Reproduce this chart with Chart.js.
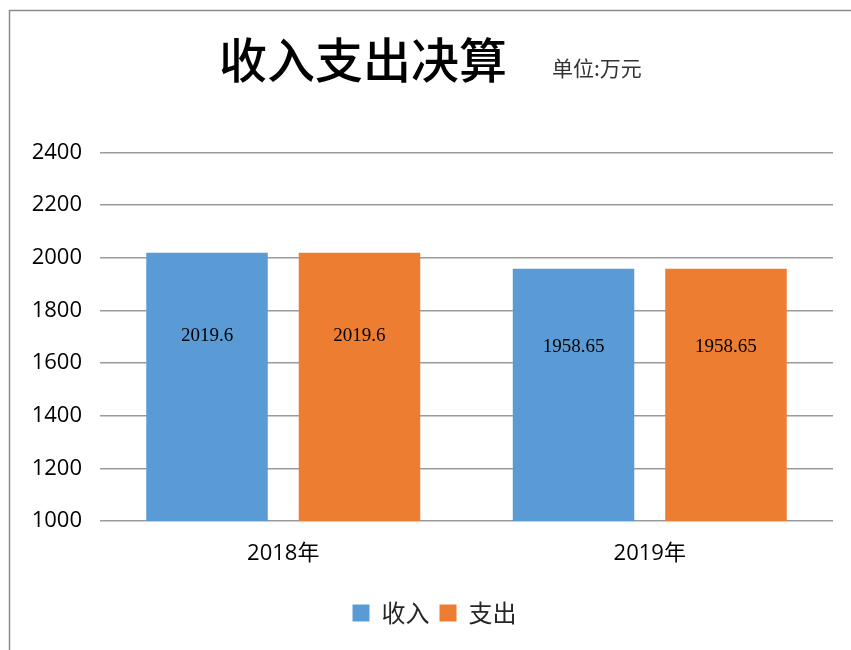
<!DOCTYPE html>
<html>
<head>
<meta charset="utf-8">
<script src="https://cdn.jsdelivr.net/npm/chart.js@4/dist/chart.umd.min.js"></script>
<style>
html,body{margin:0;padding:0;background:#fff;}
#wrap{width:851px;height:650px;position:relative;}
</style>
</head>
<body>
<div id="wrap"><canvas id="c" width="851" height="650"></canvas></div>
<script>
const categories = ['2018年', '2019年'];
const incomeValues = [2019.6, 1958.65];
const expenseValues = [2019.6, 1958.65];
const seriesNames = ['收入', '支出'];
const yTicks = [1000, 1200, 1400, 1600, 1800, 2000, 2200, 2400];
const titleText = '收入支出决算';
const unitText = '单位:万元';

const frameAndTitle = {
  id: 'frameAndTitle',
  afterLayout(chart) {
    if (chart.legend) {
      chart.legend.left += 11;
      chart.legend.right += 11;
    }
  },
  beforeDraw(chart) {
    const ctx = chart.ctx;
    ctx.save();
    ctx.fillStyle = '#fff';
    ctx.fillRect(0, 0, chart.width, chart.height);
    ctx.strokeStyle = '#8c8c8c';
    ctx.lineWidth = 1.5;
    ctx.strokeRect(9.5, 10.5, 1000, 1000);
    ctx.restore();
  },
  afterDraw(chart) {
    const ctx = chart.ctx;
    ctx.save();
    ctx.fillStyle = '#000';
    ctx.textBaseline = 'middle';
    ctx.textAlign = 'center';
    ctx.font = '500 48px "Noto Sans CJK SC"';
    ctx.fillText(titleText, 363, 60);
    ctx.textAlign = 'left';
    ctx.fillStyle = '#333';
    ctx.font = '21px "Noto Sans CJK SC"';
    ctx.fillText(unitText, 552, 68);
    ctx.restore();
  }
};

const valueLabels = {
  id: 'valueLabels',
  afterDatasetsDraw(chart) {
    const ctx = chart.ctx;
    const bottom = chart.chartArea.bottom;
    ctx.save();
    ctx.fillStyle = '#000';
    ctx.font = '19px "Liberation Serif"';
    ctx.textAlign = 'center';
    ctx.textBaseline = 'middle';
    chart.data.datasets.forEach((ds, i) => {
      chart.getDatasetMeta(i).data.forEach((bar, j) => {
        const base = Math.min(bar.base, bottom);
        const y = bar.y + (base - bar.y) * 0.31;
        ctx.fillText(String(ds.data[j]), bar.x, y);
      });
    });
    ctx.restore();
  }
};

new Chart(document.getElementById('c'), {
  type: 'bar',
  data: {
    labels: categories,
    datasets: [
      { label: seriesNames[0], data: incomeValues, backgroundColor: '#5B9BD5', categoryPercentage: 0.832, barPercentage: 0.797 },
      { label: seriesNames[1], data: expenseValues, backgroundColor: '#ED7D31', categoryPercentage: 0.832, barPercentage: 0.797 }
    ]
  },
  options: {
    responsive: false,
    animation: false,
    devicePixelRatio: 1,
    layout: { padding: { top: 152.5, left: 14, right: 18, bottom: 15 } },
    plugins: {
      title: { display: false },
      tooltip: { enabled: false },
      legend: {
        position: 'bottom',
        labels: {
          boxWidth: 17, boxHeight: 17, padding: 10,
          color: '#262626',
          font: { family: '"Noto Sans CJK SC"', size: 24 }
        }
      }
    },
    scales: {
      x: {
        grid: { display: false },
        border: { display: false },
        ticks: { color: '#000', padding: 12, font: { family: '"Open Sans", "Noto Sans CJK SC"', size: 22 } },
        afterFit(s) { s.height = 70; }
      },
      y: {
        min: yTicks[0],
        max: yTicks[yTicks.length - 1],
        afterBuildTicks(s) { s.ticks = yTicks.map(v => ({ value: v })); },
        afterFit(s) { s.width = 86; },
        grid: { color: '#9a9a9a', lineWidth: 1.5, drawTicks: false },
        border: { display: false },
        ticks: { color: '#000', padding: 18, font: { family: '"Open Sans"', size: 22 }, callback: v => String(v) }
      }
    }
  },
  plugins: [frameAndTitle, valueLabels]
});
</script>
</body>
</html>
